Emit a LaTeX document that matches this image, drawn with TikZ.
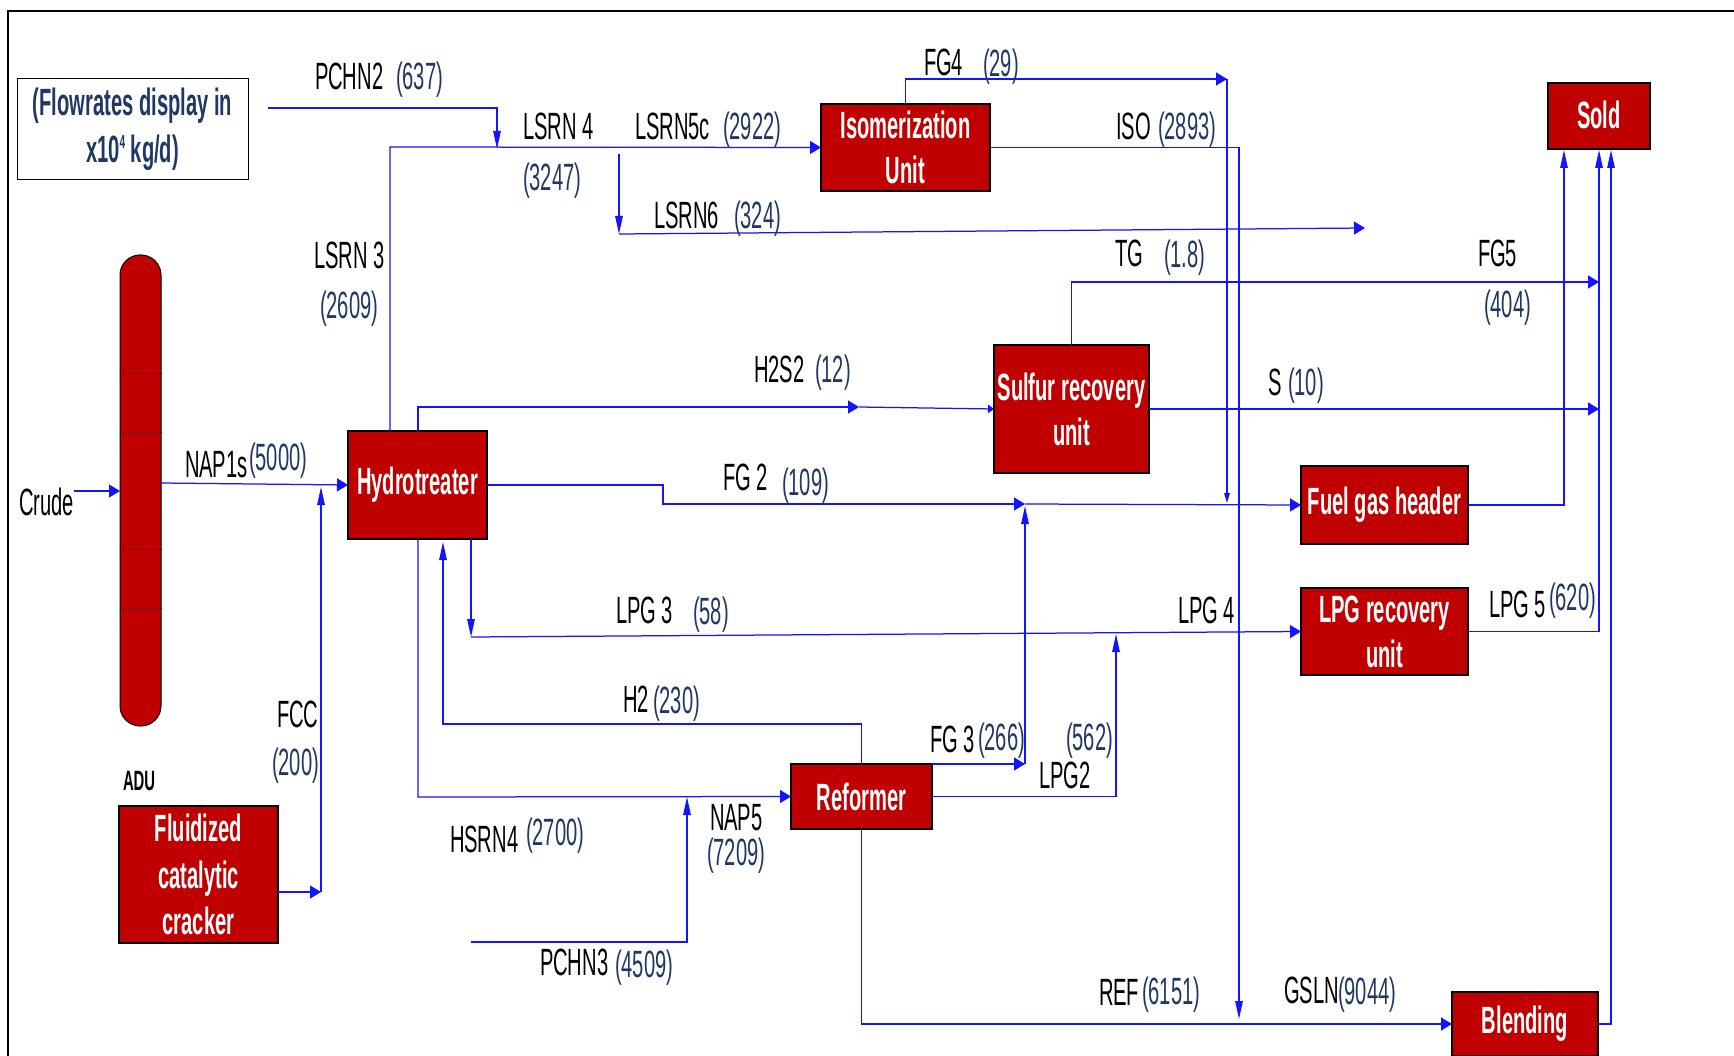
\documentclass[tikz,border=0pt]{standalone}
\usepackage{fontspec}
\setmainfont{Liberation Sans}[FakeStretch=0.53]
\usetikzlibrary{arrows.meta}
\definecolor{boxred}{RGB}{192,0,0}
\definecolor{navy}{RGB}{31,56,100}
\definecolor{flowblue}{RGB}{20,20,255}
\newcommand{\lblfont}{\fontsize{38}{45}\selectfont}
\begin{document}
\begin{tikzpicture}[x=1pt,y=-1pt,
  every node/.style={inner sep=0pt,outer sep=0pt},
  unitbox/.style={draw=black,line width=1.3pt,fill=boxred,text=white,
    font=\lblfont\bfseries,align=center},
  lbl/.style={anchor=base west,font=\lblfont,text=black},
  num/.style={anchor=base west,font=\lblfont,text=navy},
  flow/.style={draw=flowblue,line width=1.25pt},
  ha/.style={flow,-{Triangle[length=11pt,width=13pt]}},
  va/.style={flow,-{Triangle[length=18pt,width=7.5pt]}},
  sva/.style={flow,-{Triangle[length=10pt,width=5.6pt]}},
  sha/.style={flow,-{Triangle[length=6pt,width=8.5pt]}}
]
\useasboundingbox (0,0) rectangle (1734,1056);
\fill[white] (0,0) rectangle (1734,1056);
% frame
\draw[line width=2pt] (8,1060) -- (8,11) -- (1740,11);

% legend
\node[draw=black,line width=1pt,minimum width=231,minimum height=101,
  font=\fontsize{38}{47}\selectfont\bfseries,text=navy,align=center] (legend) at (132.5,129.5)
  {(Flowrates display in\\x10\raisebox{14pt}{\fontsize{19}{19}\selectfont 4} kg/d)};

% ADU column
\node[draw=black,line width=1pt,fill=boxred,rounded corners=20pt,
  minimum width=41,minimum height=471] (adu) at (140.5,490.5) {};
\foreach \yy in {373,432,549,608}
  \draw[dotted,line width=0.9pt] (120,\yy) -- (161,\yy);
\node[anchor=base west,font=\fontsize{28}{32}\selectfont\bfseries] (adulbl) at (123,790) {ADU};

% units
\node[unitbox,minimum width=139,minimum height=108] (hydro) at (417.5,485) {Hydrotreater};
\node[unitbox,minimum width=169,minimum height=87] (iso) at (905.5,147.5) {Isomerization\\Unit};
\node[unitbox,minimum width=155,minimum height=128] (sulfur) at (1071.5,409) {Sulfur recovery\\unit};
\node[unitbox,minimum width=167,minimum height=78] (fgh) at (1384.5,505) {Fuel gas header};
\node[unitbox,minimum width=167,minimum height=87] (lpgr) at (1384.5,631.5) {LPG recovery\\unit};
\node[unitbox,minimum width=102,minimum height=66] (sold) at (1599,116) {\raisebox{2pt}{Sold}};
\node[unitbox,minimum width=141,minimum height=65] (reformer) at (861.5,796.5) {Reformer};
\node[unitbox,minimum width=159,minimum height=137,font=\fontsize{38}{46.5}\selectfont\bfseries] (fcc) at (198.5,874.5) {Fluidized\\catalytic\\cracker};
\node[unitbox,minimum width=146,minimum height=64] (blend) at (1525,1024) {Blending};

% coordinates
\coordinate (crudeS) at (74,491);
\coordinate (nap1s) at (161,483);
\coordinate (fccC) at (321,892);
\coordinate (fccT) at (321,487);
\coordinate (ls3) at (390,147);
\coordinate (pc2a) at (268,108);
\coordinate (pc2b) at (497,108);
\coordinate (pc2c) at (497,149);
\coordinate (ls6a) at (619,154);
\coordinate (ls6b) at (619,234);
\coordinate (ls6c) at (1365,228);
\coordinate (fg4a) at (905.5,79);
\coordinate (fg4b) at (1227,79);
\coordinate (fg4c) at (1227,503);
\coordinate (isoB) at (1239,1019);
\coordinate (tgB) at (1599,282);
\coordinate (h2sA) at (418,407);
\coordinate (h2sB) at (859,407);
\coordinate (sEnd) at (1599,409);
\coordinate (fg2a) at (663,485);
\coordinate (fg2b) at (663,504);
\coordinate (fg2c) at (1025,504);
\coordinate (fgOut) at (1564,150);
\coordinate (lpg3b) at (471,637);
\coordinate (lpg5) at (1599,150);
\coordinate (h2b) at (443,724);
\coordinate (h2c) at (443,542);
\coordinate (nap5a) at (418,797);
\coordinate (pc3a) at (471,942);
\coordinate (pc3b) at (687,942);
\coordinate (pc3c) at (687,797);
\coordinate (fg3a) at (1025,764);
\coordinate (fg3b) at (1025,506);
\coordinate (lpg2) at (1116,634);
\coordinate (blOut) at (1611,150);

% connectors
\draw[ha] (crudeS) -- (crudeS -| adu.west);
\draw[ha] (nap1s) -- (hydro.west);
\draw[ha] (fcc.east |- fccC) -- (fccC);
\draw[va] (fccC) -- (fccT);
\draw[ha] (ls3 |- hydro.north) -- (ls3) -- (iso.west);
\draw[va] (pc2a) -- (pc2b) -- (pc2c);
\draw[va] (ls6a) -- (ls6b);
\draw[ha] (ls6b) -- (ls6c);
\draw[ha] (iso.north -| fg4a) -- (fg4a) -- (fg4b);
\draw[sva] (fg4b) -- (fg4c);
\draw[va] (iso.east) -| (isoB);
\draw[ha] (sulfur.north) |- (tgB);
\draw[ha] (h2sA |- hydro.north) -- (h2sA) -- (h2sB);
\draw[sha] (h2sB) -- (sulfur.west);
\draw[ha] (sulfur.east) -- (sEnd);
\draw[ha] (hydro.east) -- (fg2a) -- (fg2b) -- (fg2c);
\draw[ha] (fg2c) -- (fgh.west);
\draw[va] (fgh.east) -| (fgOut);
\draw[va] (lpg3b |- hydro.south) -- (lpg3b);
\draw[ha] (lpg3b) -- (lpgr.west);
\draw[va] (lpgr.east) -| (lpg5);
\draw[va] (reformer.north) |- (h2b) -- (h2c);
\draw[ha] (nap5a |- hydro.south) -- (nap5a) -- (reformer.west);
\draw[va] (pc3a) -- (pc3b) -- (pc3c);
\draw[ha] (reformer.north east) -- (fg3a);
\draw[va] (fg3a) -- (fg3b);
\draw[va] (reformer.east) -| (lpg2);
\draw[ha] (reformer.south) |- (blend.west);
\draw[va] (blend.east) -| (blOut);

% labels
\node[lbl] (t1) at (315,90) {PCHN2};   \node[num] (n1) at (396,90) {(637)};
\node[lbl] (t2) at (523,140) {LSRN 4}; \node[num] (n2) at (523,191) {(3247)};
\node[lbl] (t3) at (635,140) {LSRN5c}; \node[num] (n3) at (723,140) {(2922)};
\node[lbl] (t4) at (924,76) {FG4};     \node[num] (n4) at (983,77) {(29)};
\node[lbl] (t5) at (1116,140) {ISO};   \node[num] (n5) at (1158,140) {(2893)};
\node[lbl] (t6) at (654,229) {LSRN6};  \node[num] (n6) at (734,229) {(324)};
\node[lbl] (t7) at (314,269) {LSRN 3}; \node[num] (n7) at (320,319) {(2609)};
\node[lbl] (t8) at (1115,267) {TG};    \node[num] (n8) at (1164,268) {(1.8)};
\node[lbl] (t9) at (1478,267) {FG5};   \node[num] (n9) at (1484,318) {(404)};
\node[lbl] (t10) at (754,382) {H2S2};  \node[num] (n10) at (815,382) {(12)};
\node[lbl] (t11) at (1268,395) {S};    \node[num] (n11) at (1288,395) {(10)};
\node[lbl] (t12) at (185,477) {NAP1s}; \node[num] (n12) at (249,470) {(5000)};
\node[lbl] (t13) at (19,515) {Crude};
\node[lbl] (t14) at (723,490) {FG 2};  \node[num] (n14) at (782,495) {(109)};
\node[lbl] (t15) at (616,623) {LPG 3}; \node[num] (n15) at (693,624) {(58)};
\node[lbl] (t16) at (1178,623) {LPG 4};
\node[lbl] (t17) at (1489,617) {LPG 5}; \node[num] (n17) at (1549,610) {(620)};
\node[lbl] (t18) at (623,712) {H2};    \node[num] (n18) at (653,713) {(230)};
\node[lbl] (t19) at (277,727) {FCC};   \node[num] (n19) at (272,775) {(200)};
\node[lbl] (t20) at (450,852) {HSRN4}; \node[num] (n20) at (526,845) {(2700)};
\node[lbl] (t21) at (930,752) {FG 3};  \node[num] (n21) at (978,750) {(266)};
\node[num] (n22) at (1066,750) {(562)};
\node[lbl] (t22) at (1039,788) {LPG2};
\node[lbl] (t23) at (710,830) {NAP5};  \node[num] (n23) at (707,865) {(7209)};
\node[lbl] (t24) at (540,975) {PCHN3}; \node[num] (n24) at (615,977) {(4509)};
\node[lbl] (t25) at (1099,1005) {REF}; \node[num] (n25) at (1142,1004) {(6151)};
\node[lbl] (t26) at (1284,1003) {GSLN}; \node[num] (n26) at (1338,1004) {(9044)};
\end{tikzpicture}
\end{document}
